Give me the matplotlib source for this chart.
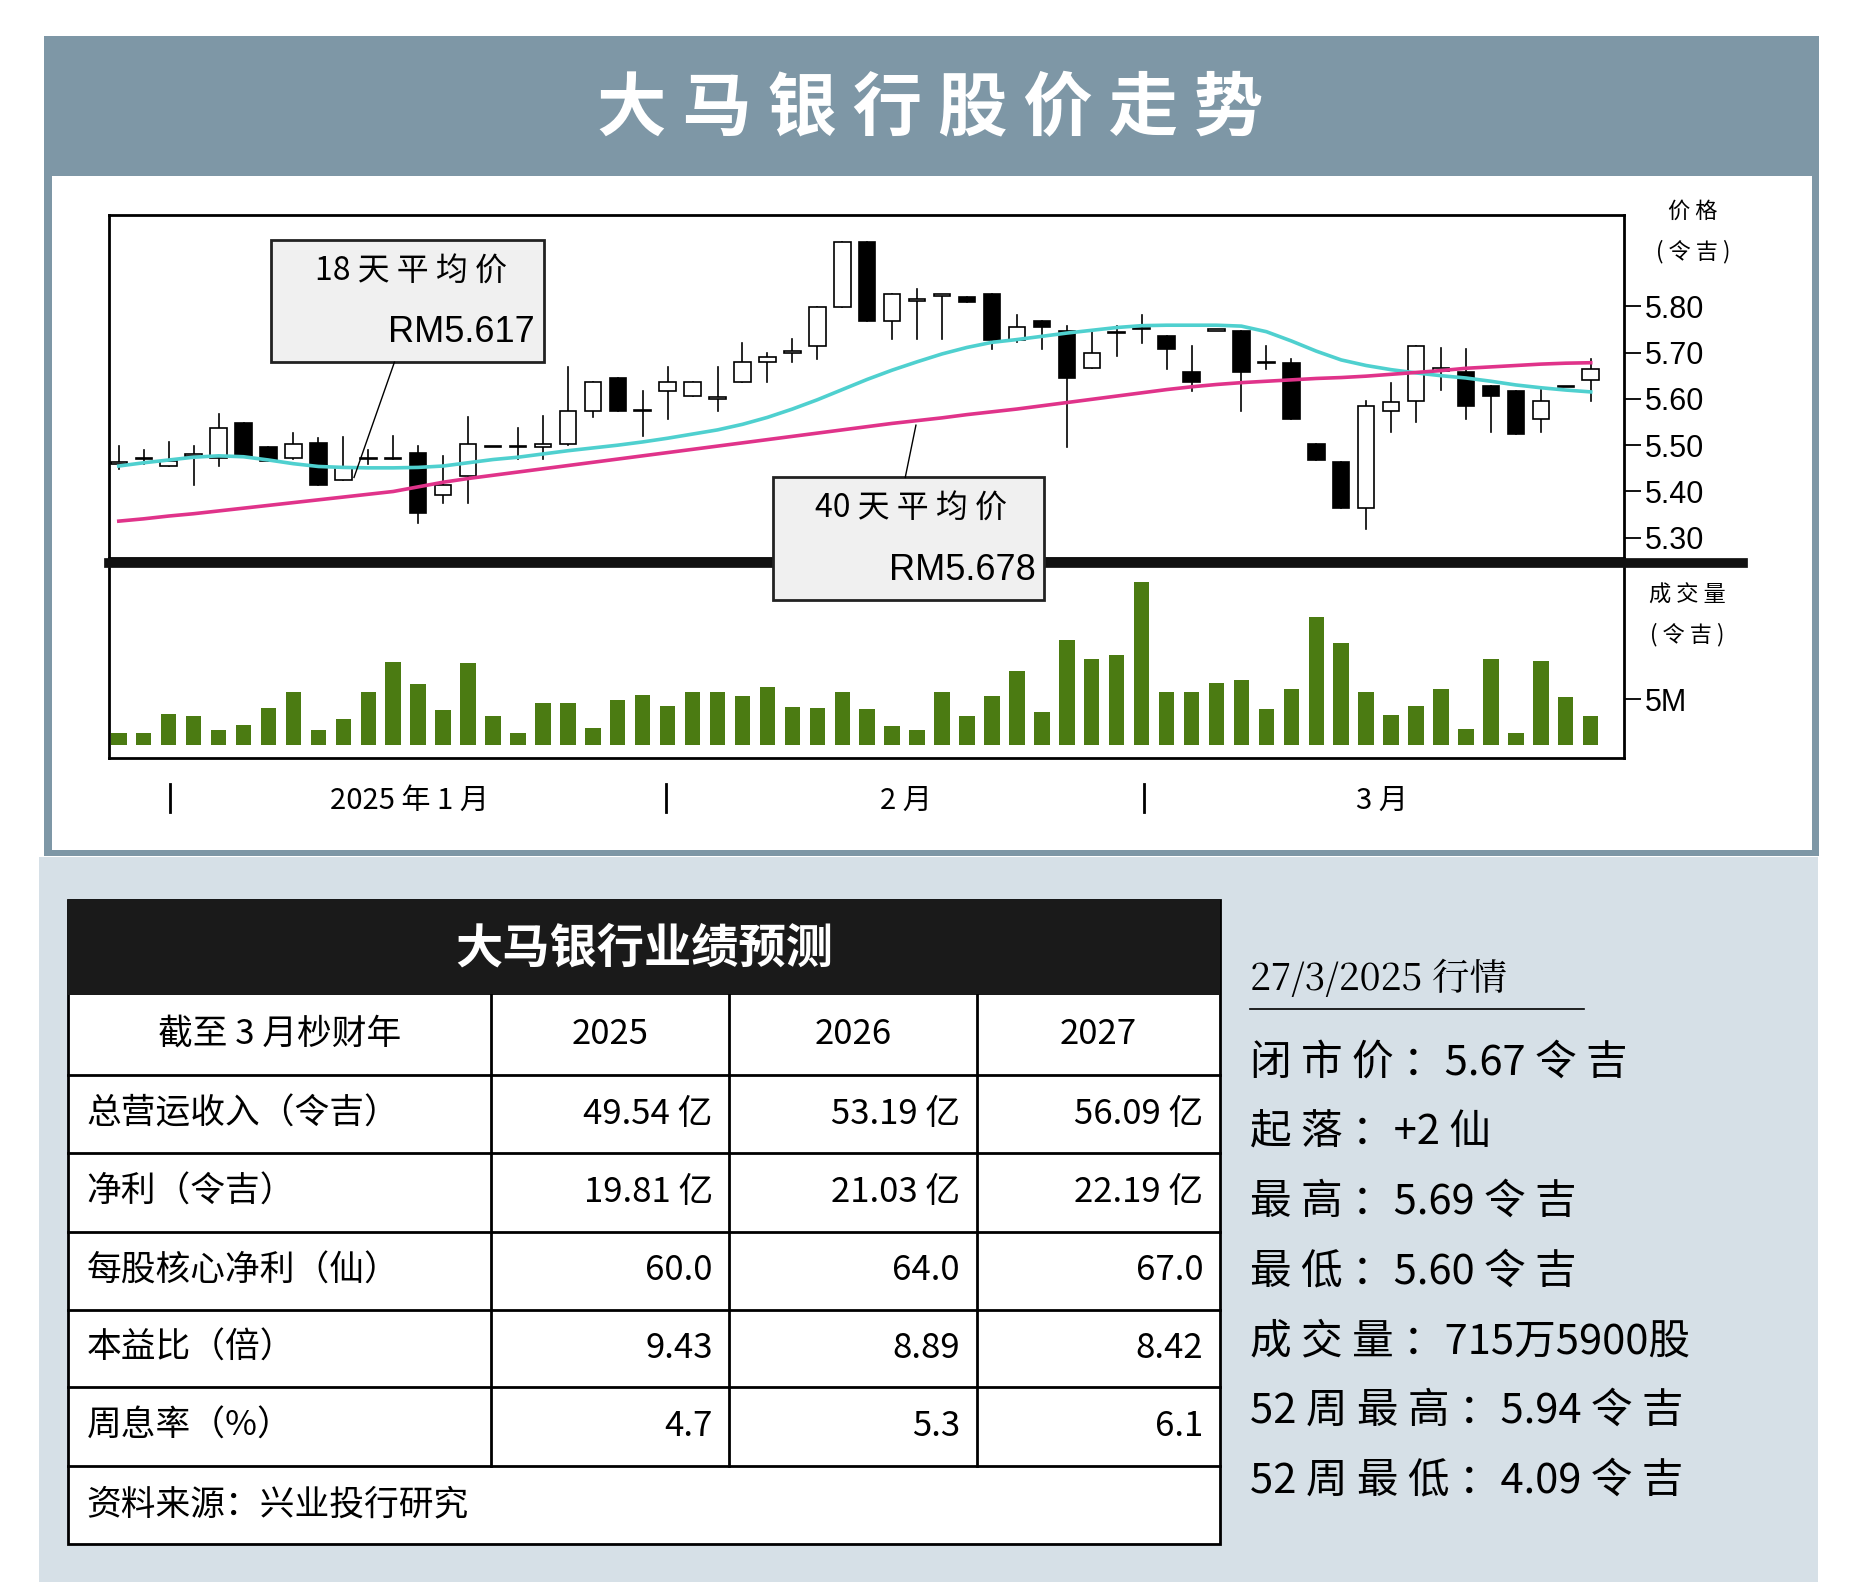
import matplotlib.pyplot as plt
from matplotlib.patches import Rectangle
from matplotlib.lines import Line2D

plt.rcParams['font.family'] = ['Noto Sans CJK SC']

# ---- data ----
opens = [5.46, 5.47, 5.455, 5.477, 5.473, 5.547, 5.495, 5.473, 5.504, 5.425,
         5.47, 5.47, 5.484, 5.393, 5.433, 5.495, 5.495, 5.495, 5.503, 5.574,
         5.644, 5.574, 5.617, 5.607, 5.60, 5.637, 5.68, 5.70, 5.715, 5.798,
         5.939, 5.769, 5.812, 5.823, 5.82, 5.827, 5.726, 5.769, 5.747, 5.667,
         5.742, 5.75, 5.736, 5.657, 5.747, 5.747, 5.677, 5.677, 5.503, 5.464,
         5.365, 5.574, 5.596, 5.66, 5.657, 5.628, 5.617, 5.556, 5.625, 5.64]
closes = [5.46, 5.47, 5.466, 5.477, 5.538, 5.477, 5.466, 5.503, 5.415, 5.452,
          5.47, 5.47, 5.354, 5.415, 5.503, 5.495, 5.495, 5.503, 5.574, 5.637,
          5.574, 5.574, 5.637, 5.637, 5.60, 5.68, 5.69, 5.70, 5.798, 5.939,
          5.769, 5.827, 5.812, 5.823, 5.81, 5.726, 5.756, 5.756, 5.646, 5.70,
          5.742, 5.75, 5.708, 5.637, 5.747, 5.657, 5.677, 5.556, 5.467, 5.365,
          5.585, 5.594, 5.715, 5.666, 5.585, 5.607, 5.524, 5.596, 5.625, 5.665]
highs = [5.498, 5.49, 5.506, 5.498, 5.567, 5.547, 5.495, 5.527, 5.516, 5.518,
         5.49, 5.52, 5.498, 5.477, 5.56, 5.495, 5.538, 5.563, 5.668, 5.637,
         5.644, 5.617, 5.668, 5.637, 5.668, 5.72, 5.70, 5.73, 5.798, 5.939,
         5.939, 5.827, 5.838, 5.823, 5.82, 5.827, 5.78, 5.769, 5.758, 5.747,
         5.758, 5.78, 5.736, 5.715, 5.747, 5.747, 5.715, 5.686, 5.503, 5.464,
         5.596, 5.635, 5.715, 5.71, 5.708, 5.628, 5.617, 5.62, 5.625, 5.686]
lows = [5.448, 5.46, 5.455, 5.415, 5.455, 5.477, 5.466, 5.47, 5.415, 5.425,
        5.46, 5.47, 5.332, 5.376, 5.376, 5.495, 5.47, 5.47, 5.50, 5.56,
        5.574, 5.52, 5.556, 5.607, 5.574, 5.637, 5.637, 5.68, 5.686, 5.798,
        5.769, 5.73, 5.73, 5.73, 5.81, 5.708, 5.722, 5.708, 5.495, 5.667,
        5.693, 5.72, 5.664, 5.617, 5.747, 5.574, 5.664, 5.556, 5.467, 5.365,
        5.318, 5.528, 5.549, 5.62, 5.556, 5.528, 5.524, 5.528, 5.625, 5.596]
ma18 = [5.455, 5.462, 5.468, 5.474, 5.477, 5.475, 5.468, 5.46, 5.454, 5.452,
        5.451, 5.451, 5.452, 5.455, 5.462, 5.469, 5.474, 5.481, 5.488, 5.494,
        5.50, 5.507, 5.515, 5.524, 5.533, 5.545, 5.56, 5.578, 5.598, 5.62,
        5.642, 5.662, 5.68, 5.697, 5.711, 5.722, 5.728, 5.735, 5.742, 5.748,
        5.754, 5.758, 5.759, 5.759, 5.759, 5.757, 5.745, 5.725, 5.703, 5.684,
        5.672, 5.663, 5.656, 5.65, 5.645, 5.638, 5.63, 5.624, 5.619, 5.615]
ma40 = [5.336, 5.341, 5.347, 5.352, 5.358, 5.364, 5.37, 5.376, 5.382, 5.388,
        5.394, 5.4, 5.41, 5.42, 5.428, 5.435, 5.442, 5.449, 5.456, 5.463,
        5.47, 5.477, 5.484, 5.491, 5.498, 5.505, 5.512, 5.519, 5.526, 5.533,
        5.54, 5.547, 5.553, 5.559, 5.566, 5.572, 5.578, 5.585, 5.592, 5.599,
        5.606, 5.613, 5.62, 5.626, 5.631, 5.635, 5.638, 5.641, 5.644, 5.646,
        5.649, 5.653, 5.657, 5.661, 5.666, 5.669, 5.672, 5.675, 5.677, 5.678]
volumes = [1.3, 1.3, 3.4, 3.2, 1.6, 2.2, 4.1, 5.8, 1.6, 2.8,
           5.8, 9.2, 6.7, 3.8, 9.0, 3.2, 1.3, 4.6, 4.6, 1.8,
           4.9, 5.5, 4.3, 5.8, 5.8, 5.4, 6.4, 4.2, 4.1, 5.8,
           3.9, 2.1, 1.6, 5.8, 3.2, 5.4, 8.2, 3.6, 11.6, 9.5,
           9.9, 18.0, 5.8, 5.8, 6.8, 7.2, 3.9, 6.2, 14.1, 11.3,
           5.8, 3.3, 4.3, 6.2, 1.7, 9.5, 1.3, 9.3, 5.3, 3.2]
price_ticks = [5.30, 5.40, 5.50, 5.60, 5.70, 5.80]
months = ['2025 年 1 月', '2 月', '3 月']

table_header = ['截至 3 月杪财年', '2025', '2026', '2027']
table_rows = [
    ['总营运收入（令吉）', '49.54 亿', '53.19 亿', '56.09 亿'],
    ['净利（令吉）', '19.81 亿', '21.03 亿', '22.19 亿'],
    ['每股核心净利（仙）', '60.0', '64.0', '67.0'],
    ['本益比（倍）', '9.43', '8.89', '8.42'],
    ['周息率（%）', '4.7', '5.3', '6.1'],
]
source = '资料来源：兴业投行研究'
quote_title = '27/3/2025 行情'
quote_lines = ['闭 市 价 ：5.67 令 吉', '起 落 ：+2 仙', '最 高 ：5.69 令 吉',
               '最 低 ：5.60 令 吉', '成 交 量 ：715万5900股',
               '52 周 最 高 ：5.94 令 吉', '52 周 最 低 ：4.09 令 吉']

# ---- layout helpers (reference pixel coords of a 1564x1343 view) ----
W, H = 1564.0, 1343.0
fig = plt.figure(figsize=(18.58, 15.95), dpi=100)


def fx(x):
    return x / W


def fy(y):
    return 1 - y / H


def rect(x0, y0, x1, y1, z=0, **kw):
    r = Rectangle((fx(x0), fy(y1)), fx(x1) - fx(x0), fy(y0) - fy(y1),
                  transform=fig.transFigure, zorder=z, **kw)
    fig.add_artist(r)


def line(xa, ya, xb, yb, z=5, **kw):
    fig.add_artist(Line2D([fx(xa), fx(xb)], [fy(ya), fy(yb)], transform=fig.transFigure,
                          zorder=z, **kw))


def text(x, y, s, **kw):
    kw.setdefault('zorder', 6)
    fig.text(fx(x), fy(y), s, **kw)


# backgrounds
rect(37, 30, 1531, 721, z=-3, facecolor='#7e97a6', edgecolor='none')
rect(44, 148, 1525, 716, z=-2, facecolor='white', edgecolor='none')
rect(33, 722, 1530, 1332, z=-3, facecolor='#d6e0e7', edgecolor='none')
text(783, 92, '大 马 银 行 股 价 走 势', color='white', fontsize=50, fontweight='bold',
     ha='center', va='center')

# ---- price axes ----
axp = fig.add_axes([fx(92), fy(470), fx(1367) - fx(92), fy(181) - fy(470)])
axp.set_zorder(2)
xlo, xhi = -8 / 21, 1267 / 21
axp.set_xlim(xlo, xhi)
axp.set_ylim(5.256, 5.997)
for i in range(len(opens)):
    axp.plot([i, i], [lows[i], highs[i]], color='black', lw=1.2, zorder=2)
    lo, hi = min(opens[i], closes[i]), max(opens[i], closes[i])
    fc = 'black' if closes[i] < opens[i] else 'white'
    axp.add_patch(Rectangle((i - 0.33, lo), 0.66, max(hi - lo, 0.003),
                            facecolor=fc, edgecolor='black', lw=1.2, zorder=3))
xs = range(len(ma18))
axp.plot(xs, ma18, color='#4fd0cf', lw=2.6, zorder=4)
axp.plot(xs, ma40, color='#e0338a', lw=2.6, zorder=4)
axp.set_xticks([])
axp.yaxis.tick_right()
axp.set_yticks(price_ticks)
axp.set_yticklabels(['%.2f' % t for t in price_ticks], fontsize=22, fontfamily='Liberation Sans')
axp.tick_params(axis='y', direction='out', length=12, width=1.3, pad=3)
for sp in axp.spines.values():
    sp.set_linewidth(2)

# ---- volume axes ----
axv = fig.add_axes([fx(92), fy(638), fx(1367) - fx(92), fy(478) - fy(638)])
axv.set_zorder(2)
axv.set_xlim(xlo, xhi)
axv.set_ylim(-1.45, 19.6)
axv.bar(range(len(volumes)), volumes, bottom=0, width=0.62, color='#4b7b12')
axv.set_xticks([])
axv.yaxis.tick_right()
axv.set_yticks([5])
axv.set_yticklabels(['5M'], fontsize=22, fontfamily='Liberation Sans')
axv.tick_params(axis='y', direction='out', length=12, width=1.3, pad=3)
for sp in axv.spines.values():
    sp.set_linewidth(2)
axv.spines['top'].set_visible(False)

# thick separator
line(92, 474, 1467, 474, z=4, color='#111111', lw=7)
text(1425, 178, '价 格', fontsize=16, ha='center', va='center')
text(1425, 212, '( 令 吉 )', fontsize=16, ha='center', va='center')
text(1420, 501, '成 交 量', fontsize=16, ha='center', va='center')
text(1420, 534, '( 令 吉 )', fontsize=16, ha='center', va='center')

# month labels
for xt in (143, 561, 963):
    line(xt, 660, xt, 684, color='black', lw=2)
for xm, m in zip((345, 763, 1163), months):
    text(xm, 674, m, fontsize=21, ha='center', va='center')

# annotation boxes
rect(228, 202, 458, 305, z=5, facecolor='#f0f0f0', edgecolor='#222222', lw=2)
text(346, 229, '18 天 平 均 价', fontsize=23, ha='center', va='center')
text(450, 280, 'RM5.617', fontsize=26, ha='right', va='center', fontfamily='Liberation Sans')
line(332, 305, 298, 402, color='black', lw=1)
rect(651, 402, 879, 505, z=5, facecolor='#f0f0f0', edgecolor='#222222', lw=2)
text(767, 428, '40 天 平 均 价', fontsize=23, ha='center', va='center')
text(872, 480, 'RM5.678', fontsize=26, ha='right', va='center', fontfamily='Liberation Sans')
line(771, 358, 762, 402, color='black', lw=1)

# ---- table ----
rect(57, 758, 1027, 1300, z=1, facecolor='white', edgecolor='black', lw=2)
rect(57, 758, 1027, 838, z=2, facecolor='#1a1a1a', edgecolor='none')
text(542, 799, '大马银行业绩预测', color='white', fontsize=34, fontweight='bold',
     ha='center', va='center')
row_y = [838, 905, 971, 1037, 1103, 1168, 1234, 1300]
col_x = [57, 413, 614, 822, 1027]
for yl in row_y[1:-1]:
    line(57, yl, 1027, yl, color='black', lw=2)
for xl in col_x[1:-1]:
    line(xl, 838, xl, 1234, color='black', lw=2)
for j, h in enumerate(table_header):
    text((col_x[j] + col_x[j + 1]) / 2, 871, h, fontsize=25, ha='center', va='center')
for r, row in enumerate(table_rows):
    yc = (row_y[r + 1] + row_y[r + 2]) / 2
    text(73, yc, row[0], fontsize=25, ha='left', va='center')
    for j in range(1, 4):
        text(col_x[j + 1] - 14, yc, row[j], fontsize=25, ha='right', va='center')
text(73, 1267, source, fontsize=25, ha='left', va='center')

# ---- right quote panel ----
text(1052, 825, quote_title, fontsize=27, ha='left', va='center', fontfamily='Noto Serif CJK SC')
line(1052, 850, 1333, 850, color='black', lw=1.2)
for k, s in enumerate(quote_lines):
    text(1052, 895 + k * 58.7, s, fontsize=30, ha='left', va='center')

fig.savefig('out.png', dpi=100)
